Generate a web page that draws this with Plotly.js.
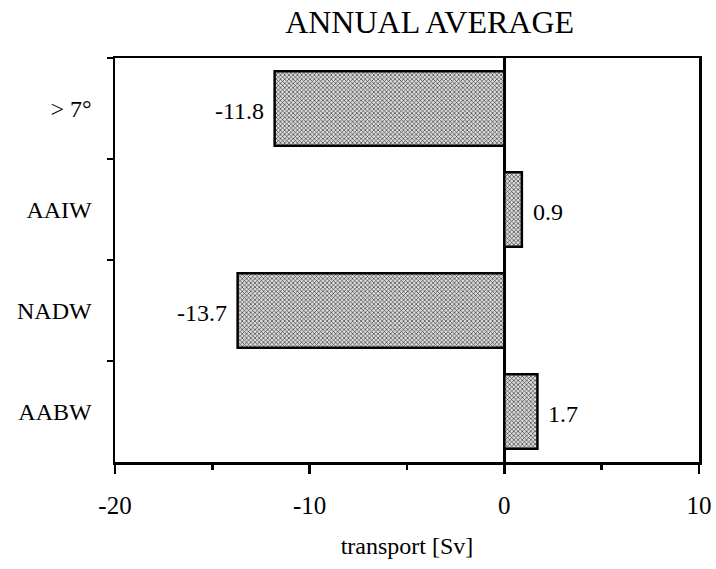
<!DOCTYPE html>
<html>
<head>
<meta charset="utf-8">
<script src="https://cdn.plot.ly/plotly-3.0.1.min.js"></script>
<style>html,body{margin:0;padding:0;background:#fff;}#chart{width:716px;height:569px;}</style>
</head>
<body>
<div id="chart"></div>
<script>
var categories = ["> 7°", "AAIW", "NADW", "AABW"];
var transport = [-11.8, 0.9, -13.7, 1.7];
var xTickVals = [-20, -10, 0, 10];
var xTickText = ["-20", "-10", "0", "10"];

var FONT = "Liberation Serif, Times New Roman, serif";

var trace = {
  type: "bar",
  orientation: "h",
  y: categories,
  x: transport,
  width: 0.74,
  marker: {
    color: "#c8c8c8",
    line: {color: "#000", width: 2.5},
    pattern: {shape: "x", fgcolor: "#222", bgcolor: "#dcdcdc", size: 3, solidity: 0.35}
  },
  hoverinfo: "skip"
};

var annotations = transport.map(function(v, i){
  return {
    x: v, y: categories[i], xref: "x", yref: "y",
    text: String(v), showarrow: false,
    xanchor: v < 0 ? "right" : "left",
    xshift: v < 0 ? -9 : 9,
    yshift: -2,
    font: {family: FONT, size: 24, color: "#000"}
  };
});

var layout = {
  width: 716, height: 569,
  margin: {l: 115, r: 17, t: 58, b: 107},
  paper_bgcolor: "#fff", plot_bgcolor: "#fff",
  showlegend: false,
  font: {family: FONT, color: "#000"},
  title: {text: "ANNUAL AVERAGE", font: {family: FONT, size: 32, color: "#000"}, x: 0.60, xanchor: "center", y: 0.962, yanchor: "middle"},
  annotations: annotations,
  xaxis: {
    range: [-20, 10],
    tickvals: xTickVals, ticktext: xTickText,
    ticks: "outside", ticklen: 9, tickwidth: 2.5, tickcolor: "#000",
    minor: {dtick: 5, tick0: 0, ticks: "outside", ticklen: 5, tickwidth: 2.5, tickcolor: "#000"},
    showline: true, linecolor: "#000", linewidth: 2.5, mirror: true,
    showgrid: false,
    zeroline: true, zerolinecolor: "#000", zerolinewidth: 2.5,
    tickfont: {family: FONT, size: 25, color: "#000"},
    ticklabelstandoff: 10,
    title: {text: "transport [Sv]", font: {family: FONT, size: 24, color: "#000"}, standoff: 20}
  },
  yaxis: {
    type: "category",
    categoryorder: "array", categoryarray: categories,
    autorange: "reversed",
    tickson: "boundaries",
    ticks: "outside", ticklen: 6, tickwidth: 2.5, tickcolor: "#000",
    showline: true, linecolor: "#000", linewidth: 2.5, mirror: true,
    showgrid: false, zeroline: false,
    tickfont: {family: FONT, size: 24, color: "#000"},
    ticklabelstandoff: 16
  }
};

Plotly.newPlot("chart", [trace], layout, {staticPlot: true, displayModeBar: false});
</script>
</body>
</html>
